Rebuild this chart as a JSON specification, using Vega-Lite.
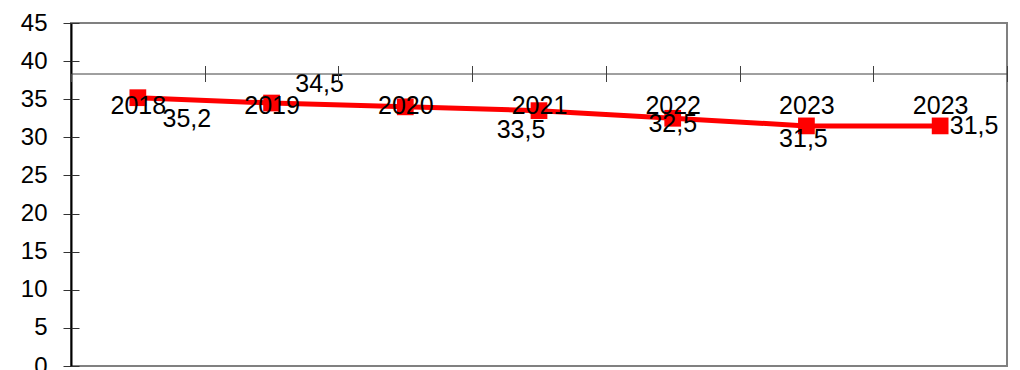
{
  "$schema": "https://vega.github.io/schema/vega-lite/v6.json",
  "width": 936,
  "height": 343,
  "autosize": "none",
  "padding": {"left": 71, "top": 23, "right": 13, "bottom": 4},
  "background": "white",
  "config": {
    "locale": {"number": {"decimal": ",", "thousands": ".", "grouping": [3], "currency": ["", ""]}},
    "view": {"stroke": "#808080", "strokeWidth": 2},
    "font": "Liberation Sans",
    "axis": {"grid": false}
  },
  "data": {"values": [
    {"cat": "2018", "value": 35.2},
    {"cat": "2019", "value": 34.5},
    {"cat": "2020", "value": 34.0},
    {"cat": "2021", "value": 33.5},
    {"cat": "2022", "value": 32.5},
    {"cat": "2023a", "value": 31.5},
    {"cat": "2023b", "value": 31.5}
  ]},
  "encoding": {
    "x": {"field": "cat", "type": "ordinal", "sort": null, "scale": {"type": "band", "paddingInner": 0, "paddingOuter": 0}, "axis": null},
    "y": {"field": "value", "type": "quantitative", "scale": {"domain": [0, 45], "nice": false, "zero": true}, "axis": null}
  },
  "layer": [
    {
      "mark": {"type": "line", "color": "#FF0000", "strokeWidth": 5},
      "encoding": {
        "x": {"field": "cat", "type": "ordinal", "sort": null, "scale": {"type": "band", "paddingInner": 0, "paddingOuter": 0},
          "axis": {"orient": "bottom", "offset": -292.5, "tickBand": "extent", "labelExpr": "substring(datum.label, 0, 4)", "labelAngle": 0, "labelFontSize": 25, "labelColor": "black", "domainColor": "#404040", "tickColor": "#404040", "tickSize": 8, "labelPadding": 11.5, "title": null, "zindex": 1}},
        "y": {"field": "value", "type": "quantitative", "scale": {"domain": [0, 45], "nice": false, "zero": true},
          "axis": {"orient": "left", "values": [0, 5, 10, 15, 20, 25, 30, 35, 40, 45], "tickSize": 8, "labelPadding": 16, "labelFontSize": 24, "labelColor": "black", "domainColor": "black", "domainWidth": 2, "tickColor": "#333333", "title": null}}
      }
    },
    {
      "mark": {"type": "point", "shape": "square", "filled": true, "size": 280, "color": "#FF0000", "opacity": 1}
    },
    {
      "mark": {"type": "point", "opacity": 0},
      "encoding": {
        "x": {"field": "cat", "type": "ordinal", "sort": null, "scale": {"type": "band", "paddingInner": 0, "paddingOuter": 0},
          "axis": {"orient": "top", "offset": -50.5, "tickBand": "extent", "labels": false, "domain": false, "tickColor": "#404040", "tickSize": 8, "title": null}},
        "y": {"field": "value", "type": "quantitative", "scale": {"domain": [0, 45], "nice": false, "zero": true},
          "axis": {"orient": "right", "offset": -936, "values": [0, 5, 10, 15, 20, 25, 30, 35, 40, 45], "labels": false, "domain": false, "tickColor": "#333333", "tickSize": 8, "title": null}}
      }
    },
    {
      "transform": [{"filter": "datum.cat == '2018'"}],
      "mark": {"type": "text", "fontSize": 25, "align": "center", "baseline": "middle", "dx": 49, "dy": 21, "color": "black"},
      "encoding": {"text": {"field": "value", "type": "quantitative", "format": ".1f"}}
    },
    {
      "transform": [{"filter": "datum.cat == '2019'"}],
      "mark": {"type": "text", "fontSize": 25, "align": "center", "baseline": "middle", "dx": 48, "dy": -19, "color": "black"},
      "encoding": {"text": {"field": "value", "type": "quantitative", "format": ".1f"}}
    },
    {
      "transform": [{"filter": "datum.cat == '2021'"}],
      "mark": {"type": "text", "fontSize": 25, "align": "center", "baseline": "middle", "dx": -18, "dy": 19, "color": "black"},
      "encoding": {"text": {"field": "value", "type": "quantitative", "format": ".1f"}}
    },
    {
      "transform": [{"filter": "datum.cat == '2022'"}],
      "mark": {"type": "text", "fontSize": 25, "align": "center", "baseline": "middle", "dx": 0, "dy": 6, "color": "black"},
      "encoding": {"text": {"field": "value", "type": "quantitative", "format": ".1f"}}
    },
    {
      "transform": [{"filter": "datum.cat == '2023a'"}],
      "mark": {"type": "text", "fontSize": 25, "align": "center", "baseline": "middle", "dx": -3, "dy": 13, "color": "black"},
      "encoding": {"text": {"field": "value", "type": "quantitative", "format": ".1f"}}
    },
    {
      "transform": [{"filter": "datum.cat == '2023b'"}],
      "mark": {"type": "text", "fontSize": 25, "align": "center", "baseline": "middle", "dx": 34, "dy": 0, "color": "black"},
      "encoding": {"text": {"field": "value", "type": "quantitative", "format": ".1f"}}
    }
  ],
  "resolve": {"axis": {"x": "independent", "y": "independent"}}
}
